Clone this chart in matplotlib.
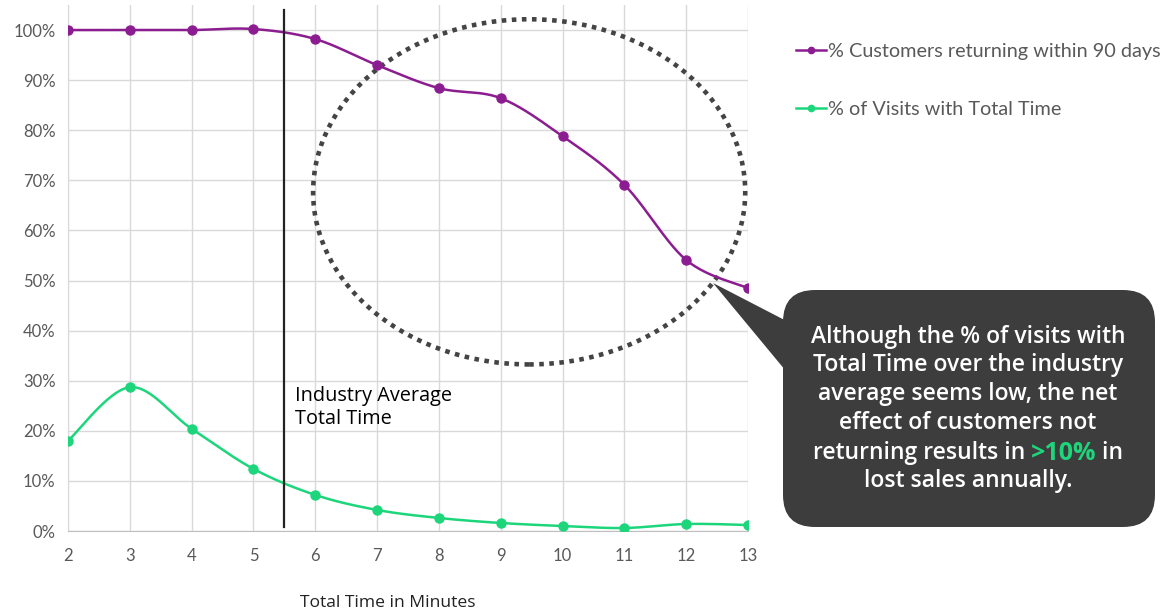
import matplotlib
matplotlib.use("Agg")
import matplotlib.pyplot as plt
import matplotlib.transforms as mtrans
from matplotlib.patches import FancyBboxPatch, Polygon, Ellipse
import numpy as np

# data
minutes = [2, 3, 4, 5, 6, 7, 8, 9, 10, 11, 12, 13]
returning = [100, 100, 100, 100.2, 98.2, 93.0, 88.4, 86.4, 78.8, 69.1, 54.1, 48.5]
visits = [18.0, 28.7, 20.4, 12.4, 7.2, 4.2, 2.6, 1.6, 1.0, 0.6, 1.4, 1.2]
industry_avg = 5.5

PURPLE = "#8c1d91"
GREEN = "#1dd67b"
GREY = "#595959"
W, H = 1176, 615


def smooth(xs, ys, n=30):
    # excel-style smoothed line (bezier through the points)
    p = np.column_stack([xs, ys]).astype(float)
    p = np.vstack([p[0], p, p[-1]])
    out = []
    t = np.linspace(0, 1, n)[:, None]
    for i in range(1, len(p) - 2):
        p0, p1, p2, p3 = p[i - 1], p[i], p[i + 1], p[i + 2]
        c1 = p1 + (p2 - p0) / 6
        c2 = p2 - (p3 - p1) / 6
        seg = (1 - t) ** 3 * p1 + 3 * (1 - t) ** 2 * t * c1 + 3 * (1 - t) * t ** 2 * c2 + t ** 3 * p2
        out.append(seg)
    out = np.vstack(out)
    return out[:, 0], out[:, 1]


fig = plt.figure(figsize=(W / 100, H / 100), dpi=100)
ax = fig.add_axes([68 / W, 1 - 531 / H, 680 / W, 526 / H])

for ys, col, lab in [(returning, PURPLE, "% Customers returning within 90 days"),
                     (visits, GREEN, "% of Visits with Total Time")]:
    sx, sy = smooth(minutes, ys)
    ax.plot(sx, sy, color=col, lw=1.8, zorder=4)
    ax.plot(minutes, ys, "o", color=col, ms=6.5, zorder=5)
    ax.plot([], [], "-o", color=col, lw=1.8, ms=4.5, label=lab)

ax.axvline(industry_avg, ymin=0.008, ymax=0.99, color="#222222", lw=1.6, zorder=6)
ax.text(industry_avg + 0.17, 29.0, "Industry Average\nTotal Time", fontsize=14.3,
        family="Open Sans", color="black", va="top", linespacing=1.2)

ell = Ellipse((9.46, 67.7), 6.99, 68.9, fill=False, ls=(0, (1, 1.2)), lw=3.3,
              edgecolor="#444444", zorder=3)
ax.add_patch(ell)

ax.set_xlim(2, 13)
ax.set_ylim(0, 105)
ax.set_xticks(minutes)
ax.set_yticks(range(0, 101, 10))
ax.set_yticklabels([f"{v}%" for v in range(0, 101, 10)])
ax.grid(True, color="#d9d9d9", lw=1)
ax.set_axisbelow(True)
for s in ["top", "right"]:
    ax.spines[s].set_visible(False)
ax.spines["left"].set_color("#d9d9d9")
ax.spines["bottom"].set_color("#bfbfbf")
ax.tick_params(length=0, labelsize=12, labelcolor=GREY)
ax.tick_params(axis="x", pad=12)
ax.tick_params(axis="y", pad=9)
for lbl in ax.get_xticklabels() + ax.get_yticklabels():
    lbl.set_family("Lato")

leg = fig.legend(loc="upper left", bbox_to_anchor=(788 / W, 1 - 35 / H), frameon=False,
                 prop={"family": "Lato", "size": 14.3}, labelspacing=2.05, handlelength=1.5,
                 handletextpad=0.1, borderaxespad=0)
for t in leg.get_texts():
    t.set_color(GREY)

fig.text(388 / W, 1 - 603 / H, "Total Time in Minutes", ha="center", va="center",
         fontsize=12.6, family="Open Sans", color="#222222")

# callout box, drawn in pixel coords (y downwards)
pix = mtrans.Affine2D().scale(1, -1).translate(0, H)
box = FancyBboxPatch((783, 290), 372, 237, boxstyle="round,pad=0,rounding_size=32",
                     transform=pix, facecolor="#3d3d3d", edgecolor="none", zorder=10)
fig.patches.append(box)
tri = Polygon([(713, 283), (800, 328), (800, 388)], closed=True, transform=pix,
              facecolor="#3d3d3d", edgecolor="none", zorder=10)
fig.patches.append(tri)

lines = [("Although the % of visits with", 337),
         ("Total Time over the industry", 365),
         ("average seems low, the net", 394),
         ("effect of customers not", 423),
         (None, 453),
         ("lost sales annually.", 481)]
tkw = dict(fontsize=16.5, family="Open Sans", weight="semibold", va="center", zorder=11)
cx = 968
for txt, y in lines:
    if txt is not None:
        fig.text(cx / W, 1 - y / H, txt, ha="center", color="white", **tkw)

# mixed colour line
parts = [("returning results in ", "white", "semibold", 16.5), (">10%", GREEN, "bold", 18),
         (" in", "white", "semibold", 16.5)]
fig.canvas.draw()
r = fig.canvas.get_renderer()
objs = []
for s, c, w, fs in parts:
    kw = dict(tkw)
    kw["weight"] = w
    kw["fontsize"] = fs
    o = fig.text(0, 1 - 453 / H, s, ha="left", color=c, **kw)
    objs.append(o)
widths = [o.get_window_extent(r).width for o in objs]
x0 = cx - sum(widths) / 2
for o, wd in zip(objs, widths):
    o.set_x(x0 / W)
    x0 += wd

fig.savefig("out.png", dpi=100)
